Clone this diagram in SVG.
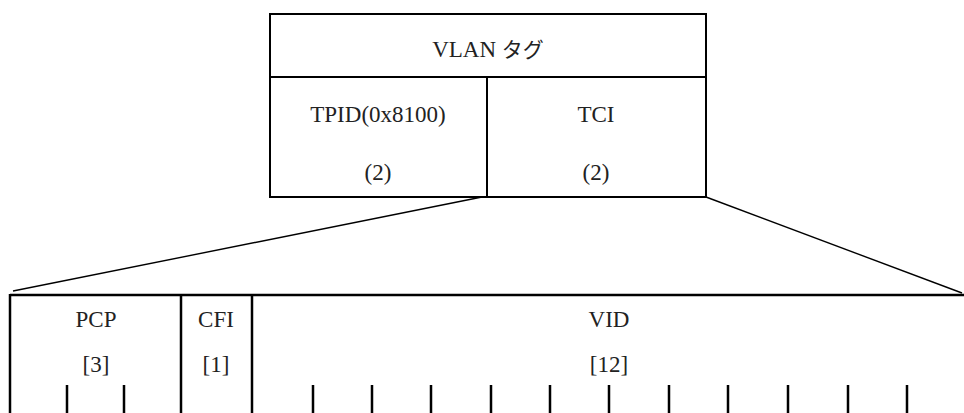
<svg xmlns="http://www.w3.org/2000/svg" width="964" height="413" viewBox="0 0 964 413">
<style>
text{font-family:"Liberation Serif","Noto Sans CJK JP",serif;font-size:23px;fill:#222;text-anchor:middle}
.b{fill:none;stroke:#000;stroke-width:2}
.t{fill:none;stroke:#000;stroke-width:2.5}
.c{fill:none;stroke:#000;stroke-width:1.4}
</style>
<rect width="964" height="413" fill="#fff"/>
<g id="vlan-tag">
<rect class="b" x="270" y="14" width="436" height="183"/>
<line class="b" x1="270" y1="77" x2="706" y2="77"/>
<text x="488" y="57">VLAN <tspan font-size="21">タグ</tspan></text>
</g>
<g id="tpid">
<line class="b" x1="487" y1="77" x2="487" y2="197"/>
<text x="378" y="122">TPID(0x8100)</text>
<text x="378" y="180">(2)</text>
</g>
<g id="tci">
<text x="596" y="122">TCI</text>
<text x="596" y="180">(2)</text>
</g>
<g id="connectors">
<line class="c" x1="482" y1="197" x2="13" y2="291"/>
<line class="c" x1="706" y1="197" x2="962" y2="293"/>
</g>
<g id="tci-fields">
<line class="t" x1="10" y1="295" x2="964" y2="295"/>
<line class="t" x1="10" y1="294" x2="10" y2="413"/>
<line class="t" x1="181" y1="295" x2="181" y2="413"/>
<line class="t" x1="252" y1="295" x2="252" y2="413"/>
</g>
<g id="pcp">
<text x="96" y="327">PCP</text>
<text x="96" y="372">[3]</text>
<path class="t" d="M67 385V413M124 385V413"/>
</g>
<g id="cfi">
<text x="216" y="327">CFI</text>
<text x="216" y="372">[1]</text>
</g>
<g id="vid">
<text x="609" y="327">VID</text>
<text x="609" y="372">[12]</text>
<path class="t" d="M313 385V413M372 385V413M431 385V413M491 385V413M550 385V413M609 385V413M669 385V413M728 385V413M788 385V413M848 385V413M907 385V413"/>
</g>
</svg>
